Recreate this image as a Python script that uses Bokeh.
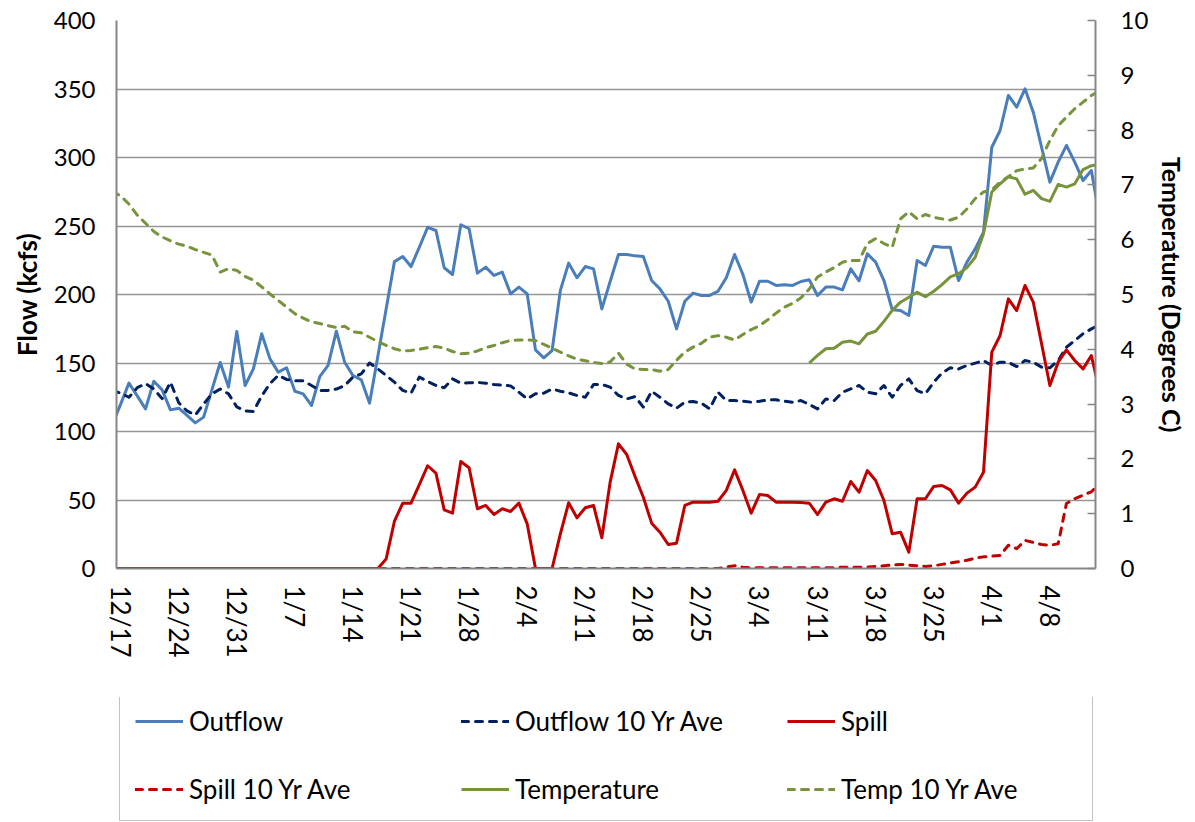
from bokeh.plotting import figure
from bokeh.layouts import column
from bokeh.models import Range1d, LinearAxis, FixedTicker, Legend, LegendItem
from bokeh.embed import file_html
from bokeh.resources import INLINE

# day offsets from 12/17 (index -1 = 12/16 ... 118 = 4/14)
days = list(range(-1, 119))

tick_days = [0, 7, 14, 21, 28, 35, 42, 49, 56, 63, 70, 77, 84, 91, 98, 105, 112]
tick_labels = ["12/17", "12/24", "12/31", "1/7", "1/14", "1/21", "1/28", "2/4", "2/11",
               "2/18", "2/25", "3/4", "3/11", "3/18", "3/25", "4/1", "4/8"]

flow_ticks = [0, 50, 100, 150, 200, 250, 300, 350, 400]
temp_ticks = [0, 1, 2, 3, 4, 5, 6, 7, 8, 9, 10]

outflow = [105, 120, 135.3, 126, 116.5, 136.7, 130.4, 115.8, 117, 111.7,
           106.3, 110.5, 130.4, 150.4, 132.4, 173, 133.6, 145.7, 171.3, 153,
           143.3, 146.5, 129.4, 127.5, 119, 140.1, 148.2, 173.2, 150.6, 140.9,
           137.7, 120.7, 155, 189.5, 224, 227.7, 220.4, 234.5, 249, 246.7,
           219.5, 214.6, 250.9, 248, 215.6, 220, 213.9, 216.3, 200.5, 205.4,
           200.5, 159.6, 153.8, 159.1, 203, 222.9, 212.2, 220.4, 218.7, 189.5,
           209.5, 229.2, 229.2, 228.2, 227.7, 210.2, 204.1, 195.1, 174.9, 195.1,
           201, 199.3, 199.3, 202.4, 212.2, 229.2, 214.6, 194.4, 209.7, 209.7,
           206.6, 207.1, 206.6, 209.5, 210.7, 199.3, 205.4, 205.4, 203.4, 218.7,
           210, 229.7, 223.6, 210.2, 188.8, 188.3, 184.7, 224.8, 221.2, 235.3,
           234.5, 234.5, 210.2, 223.6, 233.3, 245.5, 307.5, 319.7, 345.3, 336.7,
           350.1, 333.1, 307.5, 282, 296.6, 308.8, 296.6, 283.2, 290.5, 256]

outflow_10yr = [130, 128, 125, 132, 135, 131, 124, 136, 121, 115,
                112, 120, 127.5, 131, 127.5, 118, 115, 114.6, 126, 135,
                141, 138, 137, 137, 133.6, 130, 130, 131, 133.6, 139.7,
                142, 150, 145.7, 140.9, 136, 130, 128, 139.7, 136.5, 133.6,
                131.9, 138.4, 135.3, 135.5, 135.8, 135.3, 134.3, 133.8, 133.3, 128.7,
                123.8, 127.5, 128, 131, 129.4, 128.2, 126.3, 125, 134.3, 134.3,
                132.4, 126.3, 123.8, 125.5, 117.8, 129.4, 125, 120.2, 117, 121.4,
                121.9, 120.7, 116.5, 128.7, 122.6, 122.6, 122.1, 121.4, 122.1, 123.1,
                123.1, 122.1, 121.4, 122.6, 119.7, 116.5, 123.8, 122.6, 128.7, 131.1,
                133.6, 128.7, 127.5, 133.6, 125, 133.6, 138.4, 129.9, 127.5, 136,
                142.6, 146.5, 145.7, 148.2, 149.9, 151.8, 148.2, 150.6, 150.6, 147.4,
                151.8, 150.6, 147, 146.5, 151.8, 161.6, 166.4, 171.3, 174.9, 178]

spill = [0, 0, 0, 0, 0, 0, 0, 0, 0, 0,
         0, 0, 0, 0, 0, 0, 0, 0, 0, 0,
         0, 0, 0, 0, 0, 0, 0, 0, 0, 0,
         0, 0, 0, 7, 34.5, 47.7, 47.7, 61.3, 75, 69.6,
         42.8, 40.4, 78.1, 73.5, 43.6, 46, 39.4, 43.6, 41.6, 47.7,
         32.6, 0, 0, 0, 25.3, 48, 37, 44.3, 46, 22.4,
         63, 91, 83.2, 67.2, 52, 33.1, 26.5, 17.5, 18.5, 46,
         48.4, 48.4, 48.4, 49.1, 57, 72, 57, 40.4, 54, 53.3,
         48.4, 48.4, 48.4, 48.2, 47.7, 39.4, 48.4, 50.9, 49.1, 63.5,
         55.7, 71.5, 64.2, 49.6, 25.3, 26.5, 11.9, 50.9, 50.9, 59.9,
         60.6, 57.4, 47.7, 55, 59.4, 70.3, 157.9, 170.1, 196.8, 188.3,
         206.6, 194.4, 164, 133.6, 150.6, 159.6, 151.8, 145.7, 155.5, 129]

spill_10yr = [0, 0, 0, 0, 0, 0, 0, 0, 0, 0,
              0, 0, 0, 0, 0, 0, 0, 0, 0, 0,
              0, 0, 0, 0, 0, 0, 0, 0, 0, 0,
              0, 0, 0, 0, 0, 0, 0, 0, 0, 0,
              0, 0, 0, 0, 0, 0, 0, 0, 0, 0,
              0, 0, 0, 0, 0, 0, 0, 0, 0, 0,
              0, 0, 0, 0, 0, 0, 0, 0, 0, 0,
              0, 0, 0, 0, 1, 2, 1, 0.5, 0.5, 0.5,
              0.5, 0.5, 0.5, 0.5, 0.5, 0.5, 0.5, 0.5, 1, 1,
              1, 1, 1.5, 2, 2.5, 3, 2.5, 2, 1.5, 2,
              3, 4, 5, 6, 7.5, 8.5, 9, 9.5, 17, 14.5,
              20.5, 19, 17.5, 17, 18, 47.5, 51, 53.5, 56, 62]

temp_10yr = [6.88, 6.8, 6.65, 6.45, 6.3, 6.15, 6.05, 5.98, 5.92, 5.88,
             5.82, 5.77, 5.72, 5.41, 5.47, 5.44, 5.33, 5.26, 5.14, 5.01,
             4.89, 4.77, 4.65, 4.57, 4.5, 4.47, 4.43, 4.4, 4.42, 4.32,
             4.30, 4.22, 4.14, 4.07, 4.01, 3.97, 3.98, 4.0, 4.03, 4.05,
             4.02, 3.96, 3.92, 3.93, 3.97, 4.03, 4.07, 4.12, 4.16, 4.17,
             4.17, 4.16, 4.09, 4.02, 3.95, 3.88, 3.82, 3.79, 3.76, 3.74,
             3.77, 3.93, 3.73, 3.64, 3.63, 3.63, 3.6, 3.63, 3.80, 3.95,
             4.04, 4.11, 4.22, 4.25, 4.22, 4.17, 4.27, 4.36, 4.43, 4.54,
             4.66, 4.77, 4.84, 4.94, 5.1, 5.32, 5.41, 5.49, 5.59, 5.62,
             5.62, 5.93, 6.02, 5.93, 5.86, 6.38, 6.51, 6.38, 6.46, 6.41,
             6.38, 6.36, 6.41, 6.56, 6.75, 6.87, 6.91, 7.05, 7.15, 7.26,
             7.29, 7.31, 7.48, 7.81, 8.08, 8.24, 8.39, 8.51, 8.63, 8.72]

# temperature record starts 3/10 (day offset 83)
temp_days = days[84:]
temperature = [3.75, 3.89, 4.01, 4.02, 4.13, 4.15, 4.10, 4.28, 4.33, 4.51,
               4.71, 4.86, 4.95, 5.04, 4.96, 5.06, 5.18, 5.32, 5.38, 5.49,
               5.68, 6.11, 6.87, 7.02, 7.15, 7.11, 6.83, 6.9, 6.75, 6.70,
               7.01, 6.96, 7.02, 7.28, 7.35, 7.37]

FONT = "Lato"
GRAY = "#868686"
COLORS = {"outflow": "#4A7EBB", "outflow10": "#002060", "spill": "#C00000",
          "spill10": "#C00000", "temp": "#77933C", "temp10": "#77933C"}

solid = dict(line_width=3, line_join="round")
dashed = dict(line_width=3, line_join="round", line_cap="round", line_dash="7 7")


def draw_series(fig):
    rs = []
    rs.append(("Outflow", fig.line(days, outflow, color=COLORS["outflow"], **solid)))
    rs.append(("Outflow 10 Yr Ave", fig.line(days, outflow_10yr, color=COLORS["outflow10"], **dashed)))
    rs.append(("Spill", fig.line(days, spill, color=COLORS["spill"], **solid)))
    rs.append(("Spill 10 Yr Ave", fig.line(days, spill_10yr, color=COLORS["spill10"], **dashed)))
    rs.append(("Temperature", fig.line(temp_days, temperature, color=COLORS["temp"],
                                       y_range_name="temp", **solid)))
    rs.append(("Temp 10 Yr Ave", fig.line(days, temp_10yr, color=COLORS["temp10"],
                                          y_range_name="temp", **dashed)))
    return rs


p = figure(width=1195, height=697,
           x_range=Range1d(-0.5, 117.5), y_range=Range1d(0, 400),
           output_backend="svg", toolbar_location=None,
           min_border_left=116, min_border_right=100,
           min_border_top=20, min_border_bottom=129)
p.extra_y_ranges = {"temp": Range1d(0, 10)}
p.outline_line_color = None
p.background_fill_color = "white"
p.border_fill_color = "white"

p.xgrid.grid_line_color = None
p.ygrid.ticker = FixedTicker(ticks=flow_ticks)
p.ygrid.grid_line_color = "#969696"
p.ygrid.grid_line_width = 1.5

ya = p.yaxis[0]
ya.ticker = FixedTicker(ticks=flow_ticks)
ya.axis_label = "Flow (kcfs)"
ya.axis_label_text_font = FONT
ya.axis_label_text_font_style = "bold"
ya.axis_label_text_font_size = "26px"
ya.axis_label_text_color = "black"
ya.axis_label_standoff = 8
ya.major_label_text_font = FONT
ya.major_label_text_font_size = "24px"
ya.major_label_text_color = "black"
ya.major_label_standoff = 21
ya.major_tick_in = 0
ya.major_tick_out = 0
ya.minor_tick_in = 0
ya.minor_tick_out = 0
ya.axis_line_color = GRAY
ya.axis_line_width = 2

xa = p.xaxis[0]
xa.ticker = FixedTicker(ticks=tick_days)
xa.major_label_overrides = {d: lab for d, lab in zip(tick_days, tick_labels)}
xa.major_label_orientation = "vertical"
xa.major_label_text_font = FONT
xa.major_label_text_font_size = "26px"
xa.major_label_text_color = "black"
xa.major_label_standoff = 17
xa.major_tick_in = 0
xa.major_tick_out = 0
xa.minor_tick_in = 0
xa.minor_tick_out = 0
xa.axis_line_color = GRAY
xa.axis_line_width = 2

ra = LinearAxis(y_range_name="temp", ticker=FixedTicker(ticks=temp_ticks),
                axis_label="Temperature (Degrees C)")
ra.axis_label_text_font = FONT
ra.axis_label_text_font_style = "bold"
ra.axis_label_text_font_size = "25px"
ra.axis_label_text_color = "black"
ra.axis_label_standoff = 6
ra.major_label_text_font = FONT
ra.major_label_text_font_size = "24px"
ra.major_label_text_color = "black"
ra.major_label_standoff = 25
ra.major_tick_in = 8
ra.major_tick_out = 0
ra.major_tick_line_color = GRAY
ra.major_tick_line_width = 1.5
ra.minor_tick_in = 0
ra.minor_tick_out = 0
ra.axis_line_color = GRAY
ra.axis_line_width = 2
p.add_layout(ra, "right")

draw_series(p)

# legend panel underneath the chart: same series, drawn off-view, only the legend shows
leg = figure(width=1195, height=125,
             x_range=Range1d(1000, 1001), y_range=Range1d(1000, 1001),
             output_backend="svg", toolbar_location=None,
             x_axis_type=None, y_axis_type=None, min_border=0)
leg.extra_y_ranges = {"temp": Range1d(1000, 1001)}
leg.outline_line_color = None
leg.xgrid.grid_line_color = None
leg.ygrid.grid_line_color = None
leg.background_fill_color = "white"
leg.border_fill_color = "white"

items = [LegendItem(label=name, renderers=[r]) for name, r in draw_series(leg)]

legend = Legend(items=items, location=(3, 1), orientation="horizontal", ncols=3)
legend.glyph_width = 48
legend.glyph_height = 28
legend.label_height = 28
legend.label_width = 236
legend.label_standoff = 6
legend.spacing = 36
legend.padding = 15
legend.margin = 0
legend.label_text_font = FONT
legend.label_text_font_size = "26px"
legend.label_text_color = "black"
legend.border_line_color = GRAY
legend.border_line_width = 1.5
legend.background_fill_color = "white"
legend.background_fill_alpha = 1.0
leg.add_layout(legend, "center")

layout = column(p, leg, spacing=0)
open("out.html", "w").write(file_html(layout, INLINE))
